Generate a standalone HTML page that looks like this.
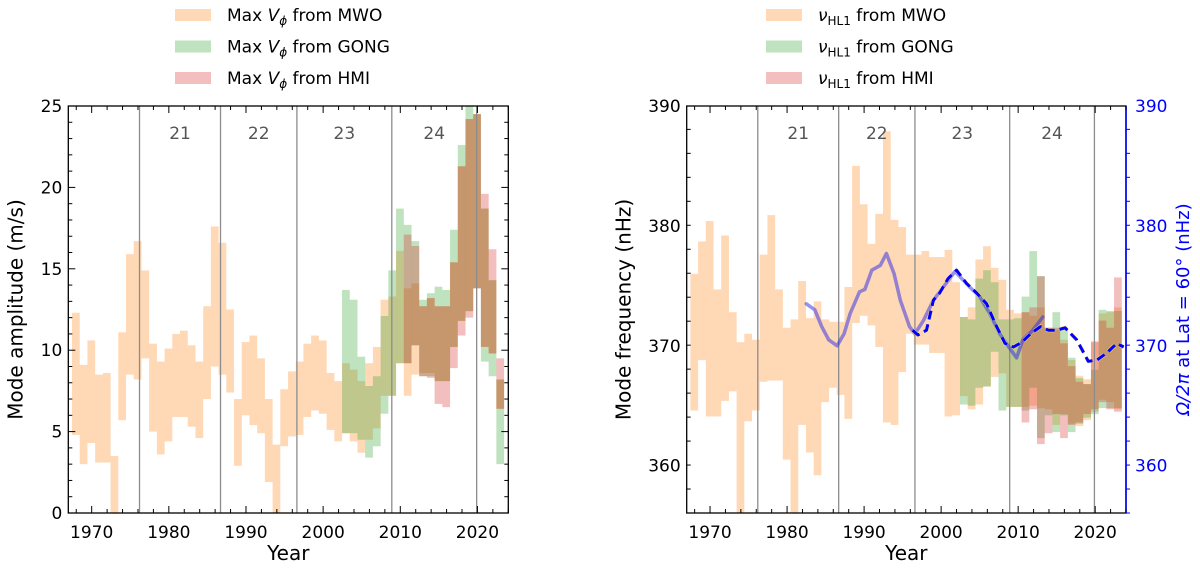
<!DOCTYPE html>
<html><head><meta charset="utf-8">
<style>
html,body{margin:0;padding:0;background:#fff;}
svg{display:block;font-family:"DejaVu Sans","Liberation Sans",sans-serif;}
</style></head>
<body>
<svg id="fig" width="1200" height="569" viewBox="0 0 1200 569" xmlns="http://www.w3.org/2000/svg">
<g id="left"></g>
<g id="right"></g>
</svg>
<script>
// ---------- data ----------
const cycleStarts = [1976.2, 1986.7, 1996.6, 2008.9, 2019.9];
const cycleNames = ["21", "22", "23", "24"];
// Left panel: max V_phi amplitude (m/s), bars start at year + 0.45
const ampMwoYears = [1967,1968,1969,1970,1971,1972,1973,1974,1975,1976,1977,1978,1979,1980,1981,1982,1983,1984,1985,1986,1987,1988,1989,1990,1991,1992,1993,1994,1995,1996,1997,1998,1999,2000,2001,2002,2003,2004,2005,2006,2007,2008,2009,2010,2011,2012,2013,2014,2015,2016,2017,2018,2019,2020,2021,2022];
const ampMwoTop = [12.3,9.1,10.6,8.5,8.6,3.5,11.1,15.9,16.7,14.9,10.4,9.3,10.1,11.0,11.2,10.3,9.3,12.7,17.6,16.6,12.5,7.0,10.5,10.9,9.5,7.0,4.2,7.6,8.7,9.3,10.4,10.9,10.6,8.6,8.1,9.2,8.8,8.1,9.2,10.2,13.1,13.3,16.1,13.8,14.1,12.7,13.2,12.7,12.7,15.4,21.3,24.2,24.5,18.7,14.3,8.2];
const ampMwoBot = [4.8,3.0,4.3,3.1,3.1,0,5.7,8.5,8.2,9.5,5.0,3.6,4.4,5.9,5.9,5.3,4.6,7.0,9.0,8.5,7.4,2.9,6.0,5.4,4.9,1.9,0,4.1,4.7,4.8,5.9,6.3,6.1,5.1,4.4,4.9,4.4,3.7,4.5,5.2,7.2,7.2,9.2,7.2,8.5,8.6,8.6,8.1,8.1,10.2,11.8,12.4,13.8,10.2,9.8,6.4];
const ampGongYears = [2002,2003,2004,2005,2006,2007,2008,2009,2010,2011,2012,2013,2014,2015,2016,2017,2018,2019,2020,2021,2022];
const ampGongTop = [13.7,13.1,9.6,7.8,8.4,12.1,14.9,18.7,17.7,16.7,13.1,13.5,13.9,13.7,17.4,22.6,25.0,24.5,18.7,14.3,8.2];
const ampGongBot = [4.9,4.9,4.5,3.4,4.1,6.1,7.2,9.2,9.2,10.3,8.4,8.4,8.1,8.1,10.2,11.8,12.4,13.8,9.3,8.4,3.0];
const ampHmiYears = [2010,2011,2012,2013,2014,2015,2016,2017,2018,2019,2020,2021,2022];
const ampHmiTop = [17.1,16.4,12.7,13.2,12.7,12.7,15.4,21.3,24.2,24.5,19.6,16.2,9.5];
const ampHmiBot = [9.2,10.3,8.4,8.3,6.7,6.5,8.9,10.9,12.0,13.8,10.2,9.8,6.4];
// Right panel: nu_HL1 (nHz)
const frqMwoYears = ampMwoYears;
const frqMwoTop = [376.0,378.7,380.4,374.7,379.2,372.8,370.3,371.0,370.5,377.6,380.9,374.7,371.5,372.2,375.4,372.3,373.7,372.2,372.0,372.0,374.9,385.0,381.8,378.5,381.0,387.9,380.5,379.9,377.6,377.6,377.9,377.4,377.4,378.0,375.3,372.4,373.2,377.2,378.3,376.5,375.5,373.0,372.7,372.8,372.5,373.2,371.5,371.3,370.5,368.8,367.5,367.2,370.4,372.7,372.8,373.2];
const frqMwoBot = [364.6,368.8,364.1,364.1,365.4,366.2,356.0,363.7,364.6,367.0,367.1,367.1,360.5,356.0,363.4,361.1,359.2,365.3,366.5,365.9,363.9,371.9,372.5,371.7,369.9,363.6,363.4,367.8,371.0,370.1,370.1,369.4,369.4,364.1,364.2,365.8,364.7,365.1,366.6,367.4,367.7,364.9,364.9,364.9,365.0,364.8,364.7,363.4,364.3,363.5,363.3,363.8,364.5,365.5,365.3,364.7];
const frqGongYears = ampGongYears;
const frqGongTop = [372.4,372.2,375.6,376.3,375.3,372.2,372.2,372.3,374.1,377.9,375.8,371.5,372.8,371.3,369.0,367.3,366.8,368.0,373.0,372.9,372.9];
const frqGongBot = [365.1,365.0,366.5,366.6,369.5,364.6,364.9,364.9,364.6,366.5,362.3,364.2,362.8,364.2,362.8,363.5,364.0,364.3,364.8,364.8,364.8];
const frqHmiYears = ampHmiYears;
const frqHmiTop = [372.8,373.2,375.8,371.5,371.5,370.2,368.3,367.0,366.8,370.3,372.1,371.5,375.7];
const frqHmiBot = [363.6,364.7,361.8,362.7,364.3,362.3,363.4,363.6,364.3,364.7,365.3,364.7,364.5];
// Omega/2pi at 60 deg
const omegaSolidYears = [1982.5,1983.6,1984.5,1985.4,1986.5,1987.4,1988.2,1989.4,1990.1,1991.0,1992.1,1992.9,1993.9,1994.7,1995.9,1996.6,1997.7,1999.0,2000.3,2001.8,2003.7,2005.0,2006.3,2007.6,2008.9,2009.8,2010.6,2011.9,2013.2];
const omegaSolidVals = [373.5,373.0,371.6,370.5,370.0,371.0,372.7,374.5,374.7,376.3,376.7,377.7,376.0,373.8,371.6,371.0,372.1,373.8,374.9,376.2,374.9,374.1,372.7,371.0,369.8,369.0,370.5,371.3,372.4];
const omegaDashYears = [1996.3,1997.0,1998.1,1999.0,1999.8,2000.9,2002.0,2003.3,2004.6,2005.9,2007.2,2008.3,2009.4,2010.5,2011.6,2012.9,2013.9,2015.0,2016.1,2017.6,2019.1,2020.2,2021.5,2022.8,2023.7];
const omegaDashVals = [371.3,370.9,371.3,373.8,374.4,375.6,376.3,375.2,374.4,373.5,371.6,370.2,369.9,370.3,371.0,371.6,371.3,371.3,371.5,370.5,368.7,368.8,369.4,370.2,369.9];
const xTicks = [1970,1980,1990,2000,2010,2020];
const ampTicks = [0,5,10,15,20,25];
const frqTicks = [360,370,380,390];

// ---------- drawing ----------
const NS="http://www.w3.org/2000/svg";
function mk(parent,tag,attrs,text){const e=document.createElementNS(NS,tag);for(const k in attrs)e.setAttribute(k,attrs[k]);if(text!==undefined)e.textContent=text;parent.appendChild(e);return e;}
const X0=1966.97,X1=2024.0,OFF=0.45;
function makeX(left,right){return y=>left+(y-X0)/(X1-X0)*(right-left);}
const COL={mwo:"rgba(255,127,14,0.3)",gong:"rgba(44,160,44,0.3)",hmi:"rgba(214,39,40,0.3)"};

function panel(g,L,R,T,B,ymin,ymax,yTicks,yMinorStep,opts){
  const sx=makeX(L,R);
  const sy=v=>B-(v-ymin)/(ymax-ymin)*(B-T);
  const clipId="clip"+Math.round(L);
  const cp=mk(g,"clipPath",{id:clipId});mk(cp,"rect",{x:L,y:T,width:R-L,height:B-T});
  const plot=mk(g,"g",{"clip-path":"url(#"+clipId+")"});
  
  
  function series(years,tops,bots,col,name){
    const sg=mk(plot,"g",{});
    
    
    for(let i=0;i<years.length;i++){
      const x0=sx(years[i]+OFF),x1=sx(years[i]+OFF+1);
      const r=mk(sg,"rect",{x:x0.toFixed(2),y:sy(tops[i]).toFixed(2),width:(x1-x0+0.02).toFixed(2),height:Math.max(0,sy(bots[i])-sy(tops[i])).toFixed(2),fill:col});
      
      
    }
  }
  series(opts.mwo[0],opts.mwo[1],opts.mwo[2],COL.mwo,"mwo");
  series(opts.gong[0],opts.gong[1],opts.gong[2],COL.gong,"gong");
  series(opts.hmi[0],opts.hmi[1],opts.hmi[2],COL.hmi,"hmi");
  cycleStarts.forEach((c,i)=>{
    const ln=mk(plot,"line",{x1:sx(c),x2:sx(c),y1:T,y2:B,stroke:"#8c8c8c","stroke-width":1.3});
    
    
  });
  for(let i=0;i<cycleNames.length;i++){
    const cx=(sx(cycleStarts[i])+sx(cycleStarts[i+1]))/2;
    const t=mk(plot,"text",{x:cx,y:T+33,"text-anchor":"middle","font-size":17,fill:"#555"},cycleNames[i]);
    
    
  }
  if(opts.lines){
    const p1=omegaSolidYears.map((y,i)=>sx(y).toFixed(1)+","+sy(omegaSolidVals[i]).toFixed(1)).join(" ");
    const sl=mk(plot,"polyline",{points:p1,fill:"none",stroke:"rgba(40,40,230,0.5)","stroke-width":3.5,"stroke-linejoin":"round","stroke-linecap":"round"});
    
    
    const p2=omegaDashYears.map((y,i)=>sx(y).toFixed(1)+","+sy(omegaDashVals[i]).toFixed(1)).join(" ");
    mk(plot,"polyline",{points:p2,fill:"none",stroke:"rgba(255,230,120,0.7)","stroke-width":4.2,"stroke-dasharray":"9 5"});
    const dl=mk(plot,"polyline",{points:p2,fill:"none",stroke:"#0000ff","stroke-width":3,"stroke-dasharray":"9 5","stroke-linejoin":"round"});
    
    
  }
  const fr=mk(g,"rect",{x:L,y:T,width:R-L,height:B-T,fill:"none",stroke:"#000","stroke-width":1.3});
  
  
  const rightCol=opts.rightAxis?"#0000ff":"#000";
  if(opts.rightAxis){mk(g,"line",{x1:R,x2:R,y1:T,y2:B,stroke:"#0000ff","stroke-width":1.6});}
  for(let y=1968;y<=2024;y+=2){
    const x=sx(y);if(x<L||x>R)continue;
    const major=(y%10===0);const len=major?7:4;
    mk(g,"line",{x1:x,x2:x,y1:B,y2:B-len,stroke:"#000","stroke-width":1});
    mk(g,"line",{x1:x,x2:x,y1:T,y2:T+len,stroke:"#000","stroke-width":1});
  }
  xTicks.forEach(y=>{
    const t=mk(g,"text",{x:sx(y),y:B+25,"text-anchor":"middle","font-size":17,fill:"#000"},String(y));
    
    
  });
  for(let v=ymin;v<=ymax+1e-6;v+=yMinorStep){
    const vv=Math.round(v*100)/100;const yy=sy(vv);if(yy<T-0.5||yy>B+0.5)continue;
    const major=yTicks.includes(vv);const len=major?7:4;
    mk(g,"line",{x1:L,x2:L+len,y1:yy,y2:yy,stroke:"#000","stroke-width":1});
    mk(g,"line",{x1:R,x2:R+(opts.rightAxis?len:-len),y1:yy,y2:yy,stroke:rightCol,"stroke-width":1});
  }
  yTicks.forEach(v=>{
    const t=mk(g,"text",{x:L-6,y:sy(v)+6,"text-anchor":"end","font-size":17,fill:"#000"},String(v));
    
    
    if(opts.rightAxis){
      const t2=mk(g,"text",{x:R+9,y:sy(v)+6,"text-anchor":"start","font-size":17,fill:"#0000ff"},String(v));
      
      
    }
  });
  const xl=mk(g,"text",{x:(L+R)/2,y:B+47,"text-anchor":"middle","font-size":20,fill:"#000"},"Year");
  
  
  const yl=mk(g,"text",{x:0,y:0,transform:"translate("+(L-opts.ylabOff)+","+((T+B)/2)+") rotate(-90)","text-anchor":"middle","font-size":20,fill:"#000"},opts.ylabel);
  
  
  if(opts.rightAxis){
    const rl=mk(g,"text",{x:0,y:0,transform:"translate("+(R+63)+","+((T+B)/2)+") rotate(-90)","text-anchor":"middle","font-size":18,fill:"#0000ff"});
    
    
    mk(rl,"tspan",{"font-style":"italic"},"Ω/2π");
    mk(rl,"tspan",{}," at Lat = 60° (nHz)");
  }
  const lg=mk(g,"g",{});
  
  
  const cols=[COL.mwo,COL.gong,COL.hmi],srcs=["MWO","GONG","HMI"];
  for(let i=0;i<3;i++){
    const yy=9+i*31.5;
    const pr=mk(lg,"rect",{x:opts.legX,y:yy,width:36,height:12,fill:cols[i]});
    
    
    const t=mk(lg,"text",{x:opts.legX+52,y:yy+12,"font-size":17,fill:"#000"});
    
    
    if(opts.rightAxis){
      mk(t,"tspan",{"font-style":"italic"},"ν");
      mk(t,"tspan",{"font-size":12,dy:4},"HL1");
      mk(t,"tspan",{dy:-4}," from "+srcs[i]);
    }else{
      mk(t,"tspan",{},"Max ");
      mk(t,"tspan",{"font-style":"italic"},"V");
      mk(t,"tspan",{"font-style":"italic","font-size":12,dy:4},"ϕ");
      mk(t,"tspan",{dy:-4}," from "+srcs[i]);
    }
  }
}
panel(document.getElementById("left"),68.3,508.3,106,513,0,25,ampTicks,1,{
  mwo:[ampMwoYears,ampMwoTop,ampMwoBot],gong:[ampGongYears,ampGongTop,ampGongBot],hmi:[ampHmiYears,ampHmiTop,ampHmiBot],
  ylabel:"Mode amplitude (m/s)",ylabOff:46,legX:175,lines:false,rightAxis:false});
panel(document.getElementById("right"),686.7,1126,106,513,356.05,390,frqTicks,2,{
  mwo:[frqMwoYears,frqMwoTop,frqMwoBot],gong:[frqGongYears,frqGongTop,frqGongBot],hmi:[frqHmiYears,frqHmiTop,frqHmiBot],
  ylabel:"Mode frequency (nHz)",ylabOff:56,legX:766,lines:true,rightAxis:true});
</script>
</body></html>
